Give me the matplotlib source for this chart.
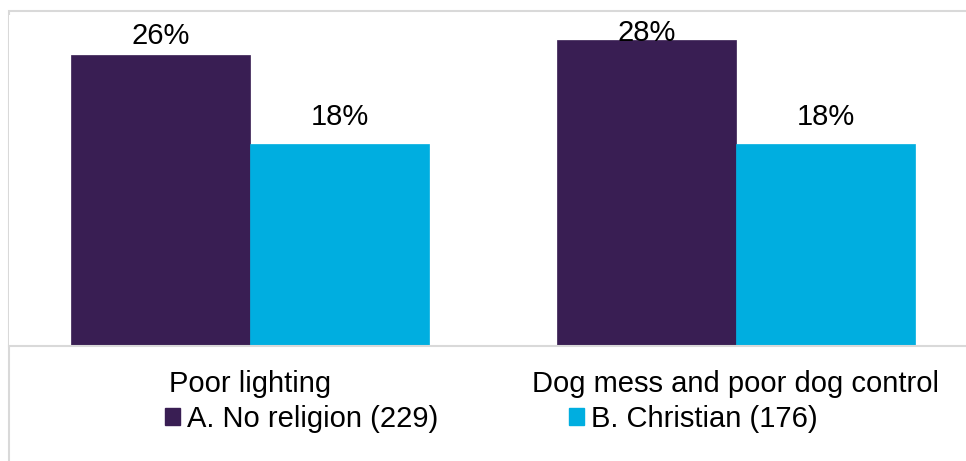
import matplotlib
matplotlib.use("Agg")
import matplotlib.pyplot as plt
from matplotlib.patches import Rectangle, Patch
import numpy as np

plt.rcParams['font.family'] = ['Liberation Sans', 'DejaVu Sans']

categories = ["Poor lighting", "Dog mess and poor dog control"]
series_names = ["A. No religion (229)", "B. Christian (176)"]
no_religion = [26.4, 27.7]
christian = [18.3, 18.3]
labels_a = ["26%", "28%"]
labels_b = ["18%", "18%"]

colors = ["#391E53", "#00AEE0"]
FS = 21
W, H = 966, 461
fig = plt.figure(figsize=(W / 100, H / 100), dpi=100)

# axes geometry in pixels
base_px = 346
top_px = 15
left_px = 9
ax = fig.add_axes([left_px / W, (H - base_px) / H, (W - left_px) / W, (base_px - top_px) / H])

x = np.arange(len(categories))
bw = 179 / 486
ax.bar(x - bw / 2, no_religion, width=bw, color=colors[0], edgecolor=colors[0], linewidth=0.5)
ax.bar(x + bw / 2, christian, width=bw, color=colors[1], edgecolor=colors[1], linewidth=0.5)

ax.set_xlim(-(250 - left_px) / 486, (W - 250) / 486)
ax.set_ylim(0, 30)

# data labels (offsets in points above the bar top, as placed in the reference)
offs_a = [19, 7]
offs_b = [27, 27]
for i in range(len(categories)):
    ax.annotate(labels_a[i], (x[i] - bw / 2, no_religion[i]), xytext=(0, offs_a[i] * 0.72),
                textcoords='offset points', ha='center', va='center', fontsize=FS, color='black',
                annotation_clip=False)
    ax.annotate(labels_b[i], (x[i] + bw / 2, christian[i]), xytext=(0, offs_b[i] * 0.72),
                textcoords='offset points', ha='center', va='center', fontsize=FS, color='black',
                annotation_clip=False)

for s in ['top', 'right', 'left']:
    ax.spines[s].set_visible(False)
ax.spines['bottom'].set_color('#D9D9D9')
ax.spines['bottom'].set_linewidth(1.5)
ax.set_yticks([])
ax.set_xticks(x)
ax.set_xticklabels(categories, fontsize=FS)
ax.tick_params(axis='x', length=0, pad=17)

# legend
handles = [Patch(facecolor=c, edgecolor=c) for c in colors]
fig.legend(handles, series_names, loc='center left', bbox_to_anchor=(165 / W, 1 - 419 / H),
           ncol=2, frameon=False, fontsize=FS, handlelength=0.52, handleheight=0.52,
           handletextpad=0.25, columnspacing=4.45, borderpad=0, borderaxespad=0)

# outer frame (cropped on right and bottom)
fig.patches.append(Rectangle((left_px / W, -0.1), 1.2, 1 - 11 / H + 0.1, transform=fig.transFigure,
                             fill=False, edgecolor='#D9D9D9', linewidth=1.5, zorder=-1))

fig.savefig("out.png", dpi=100)
